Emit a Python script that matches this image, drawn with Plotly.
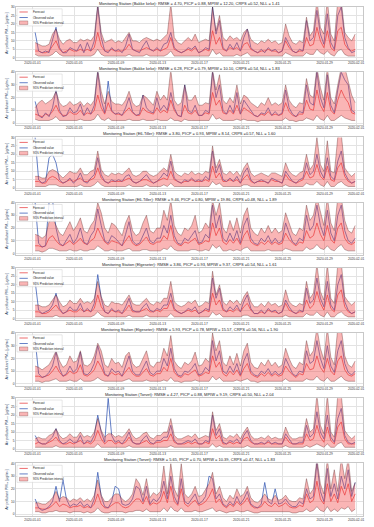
import pandas as pd
import plotly.graph_objects as go
from plotly.subplots import make_subplots

# 8-hourly samples
TIMES = pd.date_range("2020-01-01 06:00", periods=93, freq="8h")

TICK_DATES = ["2020-01-01", "2020-01-05", "2020-01-09", "2020-01-13", "2020-01-17",
              "2020-01-21", "2020-01-25", "2020-01-29", "2020-02-01"]

TITLES = [
    "Monitoring Station (Bakke kirke): RMSE = 4.70, PICP = 0.88, MPIW = 12.20, CRPS =0.52, NLL = 1.41",
    "Monitoring Station (Bakke kirke): RMSE = 6.28, PICP = 0.79, MPIW = 10.10, CRPS =0.54, NLL = 1.83",
    "Monitoring Station (E6-Tiller): RMSE = 3.80, PICP = 0.93, MPIW = 8.14, CRPS =0.57, NLL = 1.60",
    "Monitoring Station (E6-Tiller): RMSE = 9.46, PICP = 0.80, MPIW = 19.86, CRPS =0.48, NLL = 1.89",
    "Monitoring Station (Elgeseter): RMSE = 3.86, PICP = 0.93, MPIW = 9.37, CRPS =0.54, NLL = 1.61",
    "Monitoring Station (Elgeseter): RMSE = 5.93, PICP = 0.78, MPIW = 15.57, CRPS =0.56, NLL = 1.90",
    "Monitoring Station (Torvet): RMSE = 4.27, PICP = 0.88, MPIW = 9.19, CRPS =0.50, NLL = 2.04",
    "Monitoring Station (Torvet): RMSE = 5.65, PICP = 0.70, MPIW = 10.39, CRPS =0.47, NLL = 1.83",
]

PM25_LABEL = "Air pollutant PM₂.₅ [μg/m³]"
PM10_LABEL = "Air pollutant PM₁₀ [μg/m³]"

# Bakke kirke PM2.5
BK25_OBS = [15,4,3, 4,3,10, 18,6,3, 3,6,5, 4,8,3, 9,4,10, 30,12,4, 3,6,4, 5,3,7, 14,5,4, 3,7,10,
            5,4,6, 4,8,9, 15,6,4, 3,4,6, 5,7,3, 4,6,5, 30,14,22, 6,4,8, 5,9,4, 12,17,6, 4,3,5,
            3,6,4, 5,3,4, 12,8,4, 3,5,4, 22,10,12, 28,14,8, 26,9,5, 25,30,12, 6,3,4]
BK25_FC = [4,4,3, 3,4,7, 10,5,3, 4,5,4, 4,5,4, 5,4,6, 15,7,4, 4,5,4, 4,4,5, 8,5,4, 4,5,6,
           5,4,5, 4,5,6, 12,5,4, 3,4,5, 4,6,3, 4,5,4, 16,8,12, 5,4,6, 5,6,4, 8,9,5, 4,3,4,
           4,5,4, 4,3,4, 10,6,4, 3,4,4, 12,7,8, 18,10,6, 16,6,4, 16,18,8, 5,4,5]
BK25_LO = [2,1,1, 1,1,2, 4,2,1, 1,1,1, 1,1,1, 1,1,2, 5,2,1, 1,1,1, 1,1,1, 2,1,1, 1,1,2,
           1,1,1, 1,1,2, 4,1,1, 1,1,1, 1,1,1, 1,1,1, 5,2,3, 1,1,1, 1,2,1, 2,3,1, 1,1,1,
           1,1,1, 1,1,1, 3,2,1, 1,1,1, 3,2,2, 5,3,2, 4,2,1, 4,5,2, 1,1,1]
BK25_HI = [9,8,7, 7,8,14, 17,11,8, 10,11,9, 9,11,10, 11,10,13, 32,15,9, 10,11,9, 10,9,12, 15,10,10, 9,11,12,
           11,10,11, 10,12,14, 32,12,9, 8,10,12, 10,14,9, 10,11,10, 30,16,25, 12,10,13, 11,12,10, 15,17,11, 9,8,10,
           9,11,9, 10,8,9, 20,13,9, 8,10,9, 24,13,16, 34,18,14, 34,14,10, 34,34,15, 12,10,14]

# Bakke kirke PM10
BK10_OBS = [17,6,4, 8,5,12, 26,10,5, 6,12,8, 9,15,6, 12,7,14, 40,18,8, 33,10,7, 8,6,12, 20,9,6, 7,22,12,
            9,8,20, 10,14,10, 24,12,6, 5,30,10, 8,14,6, 6,10,8, 40,20,30, 10,7,14, 8,24,7, 18,14,9, 6,5,8,
            7,12,6, 9,6,8, 26,12,7, 5,9,8, 30,16,14, 40,20,12, 38,14,8, 26,40,34, 30,10,8]
BK10_FC = [7,6,5, 7,6,9, 14,8,6, 6,9,7, 7,10,6, 8,7,10, 22,12,7, 16,9,7, 7,6,9, 12,8,6, 6,12,9,
           8,7,12, 8,10,8, 18,10,6, 5,14,8, 7,10,6, 6,8,7, 24,14,18, 8,7,10, 7,14,7, 12,10,8, 6,5,7,
           6,9,6, 7,6,7, 16,9,6, 5,7,7, 18,11,10, 26,14,9, 24,10,7, 18,26,20, 16,8,7]
BK10_LO = [3,2,2, 2,2,3, 5,2,2, 2,2,2, 2,3,2, 2,2,3, 7,3,2, 4,2,2, 2,2,2, 3,2,2, 2,3,2,
           2,2,3, 2,2,2, 4,2,2, 1,3,2, 2,2,2, 2,2,2, 7,3,4, 2,2,2, 2,3,2, 3,2,2, 2,1,2,
           2,2,2, 2,2,2, 4,2,2, 1,2,2, 4,3,2, 6,3,2, 6,2,2, 4,6,4, 3,2,2]
BK10_HI = [12,16,18, 15,17,19, 25,16,13, 14,17,14, 15,17,13, 16,14,18, 42,25,15, 25,17,15, 15,14,18, 25,16,13, 14,22,20,
           17,14,25, 18,22,18, 42,18,14, 16,30,18, 18,22,14, 14,16,15, 42,26,38, 18,15,20, 16,30,15, 22,20,16, 14,12,16,
           14,20,14, 16,14,16, 30,18,14, 12,16,15, 35,22,20, 44,28,18, 44,20,15, 30,44,44, 33,22,16]

# E6-Tiller PM2.5
ET25_OBS = [30,5,3, 4,18,20, 15,5,3, 4,6,3, 5,9,4, 3,6,8, 18,8,4, 3,5,4, 5,4,7, 8,4,3, 4,6,8,
            5,3,4, 6,9,7, 16,6,4, 3,5,4, 6,4,5, 4,7,5, 22,9,14, 5,4,6, 4,7,3, 9,12,5, 3,4,5,
            4,3,6, 5,4,3, 10,7,4, 3,5,6, 15,8,10, 20,10,6, 18,7,5, 16,22,9, 5,3,4]
ET25_FC = [4,4,3, 3,6,7, 6,4,3, 4,5,4, 5,6,4, 4,5,6, 12,6,4, 3,4,4, 4,4,5, 6,4,3, 4,5,5,
           4,3,4, 5,6,5, 10,5,4, 3,4,4, 5,4,4, 4,5,4, 13,6,9, 4,4,5, 4,5,3, 6,8,4, 3,4,4,
           4,3,5, 4,4,3, 8,5,4, 3,4,5, 10,6,7, 14,7,5, 13,5,4, 12,15,7, 4,3,4]
ET25_LO = [1,1,1, 1,2,2, 2,1,1, 1,1,1, 1,2,1, 1,1,2, 4,2,1, 1,1,1, 1,1,1, 2,1,1, 1,1,2,
           1,1,1, 1,2,1, 3,1,1, 1,1,1, 1,1,1, 1,1,1, 4,2,3, 1,1,1, 1,1,1, 2,2,1, 1,1,1,
           1,1,1, 1,1,1, 2,1,1, 1,1,1, 3,2,2, 4,2,1, 4,1,1, 3,4,2, 1,1,1]
ET25_HI = [7,7,6, 6,10,11, 10,8,6, 8,10,9, 9,12,8, 8,10,11, 22,11,8, 7,9,8, 9,8,10, 12,8,7, 8,10,10,
           8,7,8, 10,12,10, 20,10,8, 7,9,8, 10,8,9, 8,10,9, 25,12,17, 9,8,10, 8,10,7, 12,15,9, 7,8,9,
           8,7,9, 9,8,7, 15,10,8, 7,9,10, 20,11,14, 30,14,10, 28,10,9, 30,32,12, 9,7,9]

# E6-Tiller PM10
ET10_OBS = [40,8,5, 6,40,42, 20,8,6, 10,15,8, 12,20,9, 7,14,18, 35,22,10, 8,14,12, 9,6,15, 25,10,7, 8,14,20,
            10,8,12, 12,22,16, 30,14,8, 7,12,10, 14,18,8, 9,15,12, 38,20,30, 12,9,16, 10,18,8, 22,28,12, 8,7,12,
            9,14,8, 12,8,10, 24,16,9, 7,12,10, 30,18,22, 38,22,14, 34,16,10, 30,38,18, 10,8,12]
ET10_FC = [6,6,5, 6,12,14, 10,7,6, 8,10,7, 9,12,8, 7,10,12, 20,14,9, 7,10,9, 8,6,10, 14,8,6, 7,10,13,
           8,7,9, 9,14,11, 22,10,7, 6,9,8, 10,12,7, 8,10,9, 24,14,20, 9,7,11, 8,12,7, 14,18,9, 7,6,9,
           7,10,7, 9,7,8, 16,11,8, 6,9,8, 18,12,14, 24,15,10, 22,11,8, 20,24,12, 8,7,9]
ET10_LO = [2,2,1, 2,4,4, 3,2,2, 2,3,2, 2,3,2, 2,3,3, 6,4,2, 2,3,2, 2,2,3, 4,2,2, 2,3,3,
           2,2,2, 2,4,3, 6,3,2, 2,2,2, 3,3,2, 2,3,2, 7,4,6, 2,2,3, 2,3,2, 4,5,2, 2,2,2,
           2,3,2, 2,2,2, 4,3,2, 2,2,2, 5,3,4, 7,4,3, 6,3,2, 5,7,3, 2,2,2]
ET10_HI = [15,14,12, 14,25,28, 22,16,14, 20,25,18, 22,28,18, 16,22,26, 40,32,20, 16,24,22, 18,14,24, 30,18,14, 16,24,30,
           18,16,20, 20,34,26, 42,22,16, 14,20,18, 22,30,16, 18,24,20, 42,30,40, 20,16,26, 18,28,16, 30,36,20, 16,14,20,
           16,22,16, 20,16,18, 32,24,16, 14,20,18, 38,26,30, 44,32,22, 44,24,18, 44,44,26, 18,16,22]

# Elgeseter PM2.5
EG25_OBS = [22,5,3, 4,5,8, 15,6,3, 4,7,5, 5,9,4, 6,4,9, 26,12,4, 3,6,4, 5,3,7, 12,5,4, 4,7,9,
            5,4,6, 5,8,8, 15,6,4, 3,4,6, 5,7,3, 4,6,5, 24,12,18, 6,4,7, 5,8,4, 10,14,6, 3,3,5,
            3,6,4, 5,3,4, 11,7,4, 3,5,4, 18,9,11, 24,12,7, 22,8,5, 20,26,10, 5,3,4]
EG25_FC = [4,4,3, 3,4,6, 8,5,3, 4,5,4, 4,6,4, 5,4,6, 14,7,4, 3,5,4, 4,3,5, 8,4,4, 4,5,6,
           4,4,5, 4,6,6, 11,5,4, 3,4,5, 4,5,3, 4,5,4, 15,8,11, 5,4,5, 4,6,4, 7,9,5, 3,3,4,
           3,5,4, 4,3,4, 9,5,4, 3,4,4, 11,6,8, 16,9,5, 14,6,4, 14,17,7, 4,3,4]
EG25_LO = [1,1,1, 1,1,1, 2,1,1, 1,1,1, 1,1,1, 1,1,2, 4,2,1, 1,1,1, 1,1,1, 2,1,1, 1,1,2,
           1,1,1, 1,1,1, 3,1,1, 1,1,1, 1,1,1, 1,1,1, 4,2,3, 1,1,1, 1,1,1, 2,2,1, 1,1,1,
           1,1,1, 1,1,1, 2,1,1, 1,1,1, 3,2,2, 4,2,1, 4,1,1, 3,4,2, 1,1,1]
EG25_HI = [8,8,7, 7,8,11, 14,10,7, 8,11,9, 9,12,9, 10,9,12, 22,13,8, 7,10,9, 9,8,11, 14,9,8, 8,10,12,
           9,8,10, 9,12,12, 22,10,8, 7,8,10, 9,11,7, 8,10,9, 28,14,20, 10,8,11, 9,11,8, 13,16,10, 7,7,9,
           7,10,8, 9,7,8, 17,10,8, 7,9,8, 22,12,15, 32,16,11, 32,12,9, 32,33,13, 10,8,10]

# Elgeseter PM10
EG10_OBS = [35,8,5, 6,9,14, 25,12,6, 8,14,9, 12,25,8, 7,10,16, 30,20,8, 6,12,9, 10,6,14, 22,10,7, 7,12,18,
            9,7,10, 10,20,14, 28,12,7, 6,10,9, 12,16,7, 8,13,10, 34,18,26, 10,8,14, 9,16,7, 18,24,10, 7,6,10,
            8,12,7, 10,7,9, 20,14,8, 6,10,9, 26,16,18, 34,20,12, 30,14,9, 26,34,16, 9,7,10]
EG10_FC = [6,6,5, 6,7,10, 14,9,6, 7,10,8, 9,15,7, 6,8,11, 18,13,7, 6,9,7, 8,6,10, 13,8,6, 6,9,12,
           7,6,8, 8,13,10, 20,9,6, 5,8,7, 9,11,6, 7,9,8, 22,13,17, 8,6,10, 7,11,6, 12,16,8, 6,5,8,
           6,9,6, 8,6,7, 14,10,7, 5,8,7, 16,11,12, 22,13,9, 20,10,7, 18,22,11, 7,6,8]
EG10_LO = [2,2,1, 2,2,3, 4,2,2, 2,3,2, 2,4,2, 2,2,3, 5,3,2, 2,2,2, 2,2,3, 4,2,2, 2,2,3,
           2,2,2, 2,3,2, 5,2,2, 1,2,2, 2,3,2, 2,2,2, 6,3,5, 2,2,2, 2,3,2, 3,4,2, 2,1,2,
           2,2,2, 2,2,2, 4,2,2, 2,2,2, 4,3,3, 6,3,2, 5,2,2, 4,6,3, 2,2,2]
EG10_HI = [14,13,11, 13,15,20, 26,18,13, 15,22,17, 18,26,15, 14,16,22, 32,26,15, 13,20,16, 17,13,22, 25,16,13, 14,20,26,
           15,13,17, 17,28,22, 38,18,14, 12,17,15, 18,25,14, 15,20,17, 40,26,34, 17,14,22, 15,24,14, 26,32,17, 13,12,17,
           14,19,14, 17,13,15, 28,20,14, 12,17,15, 34,22,26, 44,28,19, 44,21,15, 44,44,22, 15,13,18]

# Torvet PM2.5
TV25_OBS = [8,4,3, 3,5,7, 12,5,3, 4,6,4, 4,8,3, 5,4,8, 20,10,4, 30,8,4, 5,3,6, 10,4,3, 3,6,8,
            4,3,5, 5,7,7, 14,5,3, 3,4,5, 4,6,3, 3,5,4, 20,8,12, 4,3,5, 4,6,3, 8,11,5, 3,3,4,
            3,5,3, 4,3,3, 9,6,3, 3,4,4, 14,7,9, 22,10,6, 20,7,4, 18,24,8, 4,3,4]
TV25_FC = [3,4,3, 3,4,5, 7,4,3, 3,4,3, 4,5,3, 4,3,5, 11,6,3, 5,5,3, 4,3,4, 7,4,3, 3,4,5,
           3,3,4, 4,5,5, 9,4,3, 3,3,4, 3,4,3, 3,4,3, 12,6,8, 3,3,4, 3,4,3, 6,7,4, 3,3,3,
           3,4,3, 3,3,3, 7,4,3, 3,3,3, 9,5,6, 14,7,4, 13,5,3, 13,16,6, 3,3,3]
TV25_LO = [1,1,1, 1,1,1, 2,1,1, 1,1,1, 1,1,1, 1,1,1, 3,1,1, 1,1,1, 1,1,1, 2,1,1, 1,1,1,
           1,1,1, 1,1,1, 2,1,1, 1,1,1, 1,1,1, 1,1,1, 3,1,2, 1,1,1, 1,1,1, 1,2,1, 1,1,1,
           1,1,1, 1,1,1, 2,1,1, 1,1,1, 2,1,2, 3,2,1, 3,1,1, 3,4,1, 1,1,1]
TV25_HI = [6,7,6, 6,8,9, 12,8,6, 7,9,7, 7,10,7, 8,7,10, 18,11,7, 9,9,7, 8,7,9, 12,8,6, 7,9,10,
           7,6,8, 8,10,10, 18,8,6, 6,7,8, 7,9,6, 7,8,7, 22,11,15, 7,6,8, 7,9,6, 10,13,8, 6,6,7,
           6,8,6, 7,6,6, 13,8,6, 6,7,7, 18,10,12, 32,14,9, 32,10,7, 32,32,11, 8,6,8]

# Torvet PM10
TV10_OBS = [12,5,3, 4,6,10, 22,10,27, 12,6,8, 7,10,6, 8,5,12, 33,14,6, 5,10,22, 20,8,7, 8,12,22, 20,10,22,
            8,12,10, 14,26,12, 30,14,8, 28,10,8, 12,16,8, 10,14,30, 28,12,16, 8,6,10, 7,14,8, 12,18,8, 6,5,8,
            25,10,8, 20,8,9, 12,8,6, 6,10,8, 20,12,14, 40,18,10, 36,14,24, 12,30,20, 35,14,25]
TV10_FC = [5,5,4, 4,5,7, 10,6,8, 7,5,6, 6,7,5, 6,5,8, 16,8,5, 5,7,9, 9,6,5, 6,9,12, 12,8,14,
           7,9,8, 10,18,9, 22,10,7, 20,8,6, 9,11,7, 8,10,14, 20,9,12, 7,5,8, 6,10,7, 9,13,7, 5,5,6,
           10,7,6, 9,6,7, 9,6,5, 5,7,6, 16,9,11, 26,12,8, 24,10,16, 9,22,15, 24,10,16]
TV10_LO = [2,2,1, 1,2,2, 3,2,2, 2,1,2, 2,2,1, 2,1,2, 5,2,1, 1,2,2, 2,2,1, 2,2,3, 3,2,4,
           2,2,2, 2,5,2, 6,3,2, 5,2,2, 2,3,2, 2,3,4, 5,2,3, 2,1,2, 2,3,2, 2,3,2, 1,1,2,
           2,2,2, 2,2,2, 2,2,1, 1,2,2, 4,2,3, 6,3,2, 6,2,4, 2,5,4, 6,2,4]
TV10_HI = [9,9,8, 8,10,13, 18,12,14, 13,10,12, 11,13,10, 12,10,15, 27,15,10, 10,13,16, 16,12,10, 12,16,28, 24,15,28,
           13,17,15, 18,38,16, 40,20,14, 40,16,13, 16,22,14, 15,20,24, 33,16,22, 13,10,15, 12,20,14, 16,22,13, 10,9,12,
           16,12,11, 15,11,12, 15,11,10, 10,13,12, 28,16,20, 44,24,16, 44,20,35, 18,44,28, 44,18,25]

PANELS = [
    (PM25_LABEL, 30, 5, BK25_FC, BK25_OBS, BK25_LO, BK25_HI),
    (PM10_LABEL, 40, 10, BK10_FC, BK10_OBS, BK10_LO, BK10_HI),
    (PM25_LABEL, 30, 5, ET25_FC, ET25_OBS, ET25_LO, ET25_HI),
    (PM10_LABEL, 40, 10, ET10_FC, ET10_OBS, ET10_LO, ET10_HI),
    (PM25_LABEL, 30, 5, EG25_FC, EG25_OBS, EG25_LO, EG25_HI),
    (PM10_LABEL, 40, 10, EG10_FC, EG10_OBS, EG10_LO, EG10_HI),
    (PM25_LABEL, 30, 5, TV25_FC, TV25_OBS, TV25_LO, TV25_HI),
    (PM10_LABEL, 40, 10, TV10_FC, TV10_OBS, TV10_LO, TV10_HI),
]

RED = "#e8474a"
BLUE = "#3d5fb8"
BAND = "rgba(242,70,70,0.40)"
EDGE = "rgba(80,25,25,0.85)"
GRID = "#e3e3e3"

fig = make_subplots(rows=8, cols=1, vertical_spacing=0.0248, subplot_titles=TITLES)

for i, (ylabel, ymax, dtick, fc, obs, lo, hi) in enumerate(PANELS, start=1):
    fig.add_trace(go.Scatter(x=TIMES, y=fc, mode="lines", line=dict(color=RED, width=0.8),
                             showlegend=False), row=i, col=1)
    fig.add_trace(go.Scatter(x=TIMES, y=obs, mode="lines", line=dict(color=BLUE, width=0.8),
                             showlegend=False), row=i, col=1)
    fig.add_trace(go.Scatter(x=TIMES, y=lo, mode="lines", line=dict(color=EDGE, width=0.4),
                             showlegend=False), row=i, col=1)
    fig.add_trace(go.Scatter(x=TIMES, y=hi, mode="lines", line=dict(color=EDGE, width=0.4),
                             fill="tonexty", fillcolor=BAND, showlegend=False), row=i, col=1)
    fig.update_yaxes(range=[-ymax * 0.035, ymax], dtick=dtick, row=i, col=1,
                     title=dict(text=ylabel, font=dict(size=3.6), standoff=2))

    # per-panel legend, upper left
    xr = "x domain" if i == 1 else f"x{i} domain"
    yr = "y domain" if i == 1 else f"y{i} domain"
    fig.add_shape(type="rect", xref=xr, yref=yr, x0=0.003, x1=0.133, y0=0.64, y1=0.965,
                  fillcolor="rgba(255,255,255,0.85)", line=dict(color="#cfcfcf", width=0.5))
    fig.add_shape(type="line", xref=xr, yref=yr, x0=0.01, x1=0.034, y0=0.905, y1=0.905,
                  line=dict(color=RED, width=0.8))
    fig.add_shape(type="line", xref=xr, yref=yr, x0=0.01, x1=0.034, y0=0.80, y1=0.80,
                  line=dict(color=BLUE, width=0.8))
    fig.add_shape(type="rect", xref=xr, yref=yr, x0=0.01, x1=0.034, y0=0.665, y1=0.735,
                  fillcolor=BAND, line=dict(color=EDGE, width=0.3))
    for yy, txt in [(0.905, "Forecast"), (0.80, "Observed value"), (0.70, "95% Prediction interval")]:
        fig.add_annotation(text=txt, xref=xr, yref=yr, x=0.042, y=yy, xanchor="left",
                           yanchor="middle", showarrow=False, font=dict(size=3, color="#222"))

fig.update_xaxes(
    range=["2019-12-30 10:00", "2020-02-01 16:00"],
    tickvals=TICK_DATES, ticktext=TICK_DATES, showticklabels=True,
    tickfont=dict(size=3.2, color="#333"), ticks="", showgrid=True,
    gridcolor=GRID, gridwidth=0.5, showline=True, mirror=True,
    linecolor="#c8c8c8", linewidth=0.5, zeroline=False,
)
fig.update_yaxes(
    tickfont=dict(size=3.2, color="#333"), ticks="", showgrid=True,
    gridcolor=GRID, gridwidth=0.5, showline=True, mirror=True,
    linecolor="#c8c8c8", linewidth=0.5, zeroline=False,
)
for t in TITLES:
    fig.update_annotations(selector=dict(text=t), font=dict(size=4, color="#222"), yshift=-1)

fig.update_layout(
    width=374, height=527,
    margin=dict(l=16, r=11, t=5, b=9),
    plot_bgcolor="white", paper_bgcolor="white",
    font=dict(family="Liberation Sans, DejaVu Sans, Arial, sans-serif"),
    showlegend=False,
)

# drop the browser's default body margin so the 374x527 figure fits the window
fig.write_html("out.html", config={"displayModeBar": False},
               post_script="document.body.style.margin='0';")
